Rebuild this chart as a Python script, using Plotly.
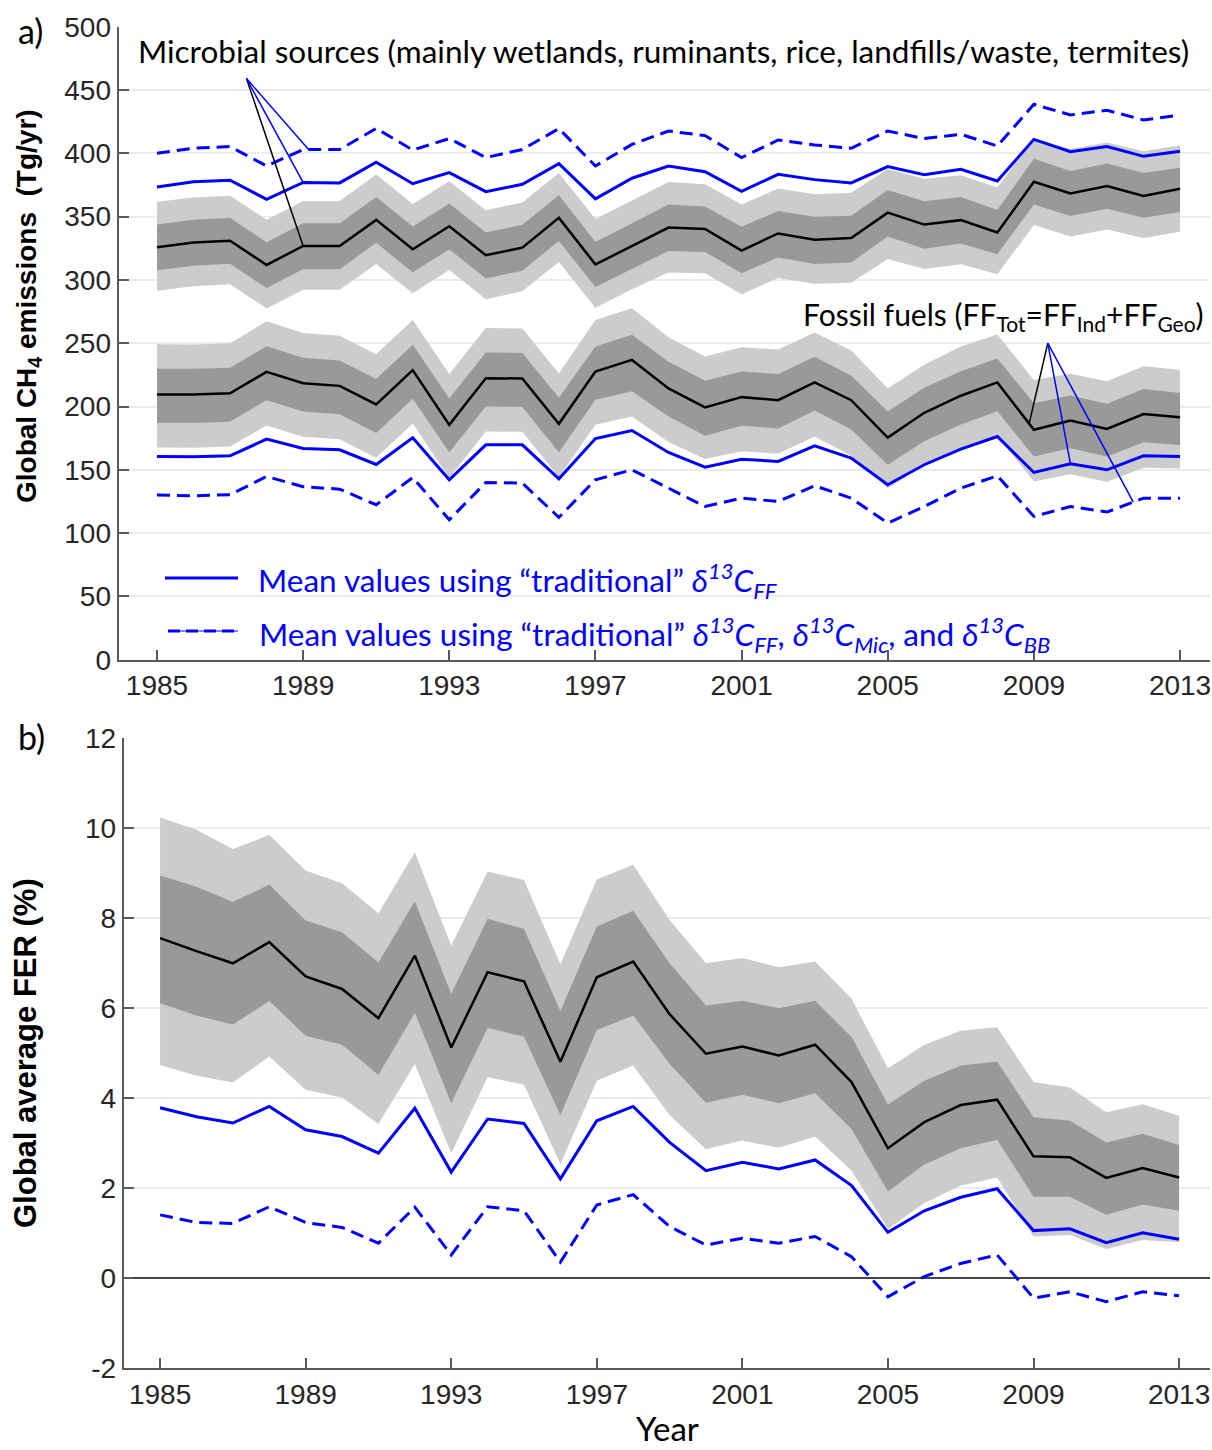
import plotly.graph_objects as go

# ---------------------------------------------------------------- data
years = list(range(1985, 2014))
tick_years = [1985, 1989, 1993, 1997, 2001, 2005, 2009, 2013]

# (a) microbial sources, Tg/yr
mic_mean = [325.8, 329.5, 331.0, 311.8, 326.8, 326.8, 347.4, 324.2, 342.4, 319.5,
            325.5, 349.0, 312.2, 327.0, 341.3, 340.3, 323.2, 336.7, 331.8, 333.0,
            353.1, 343.7, 347.2, 337.4, 377.5, 368.3, 374.2, 366.3, 372.0]
mic_inner_hi = [343.8, 347.5, 349.0, 329.8, 344.8, 344.8, 365.4, 342.2, 360.4, 337.5,
                343.5, 367.0, 330.0, 344.5, 359.6, 358.0, 342.0, 354.5, 349.8, 350.6,
                371.0, 362.2, 365.4, 355.3, 395.6, 386.1, 391.9, 384.5, 388.6]
mic_inner_lo = [307.6, 311.2, 312.7, 293.6, 308.5, 308.5, 329.3, 306.0, 324.1, 301.2,
                307.2, 330.7, 294.4, 308.5, 322.9, 322.1, 305.2, 317.7, 312.6, 313.8,
                334.2, 324.7, 328.7, 320.3, 359.6, 350.4, 356.2, 349.1, 353.7]
mic_outer_hi = [361.8, 365.0, 366.5, 347.6, 362.3, 362.3, 383.2, 359.9, 378.0, 355.0,
                361.2, 384.5, 348.2, 362.5, 377.3, 375.5, 359.5, 372.2, 367.6, 368.9,
                387.6, 379.8, 382.7, 372.9, 411.5, 403.3, 408.6, 401.6, 406.3]
mic_outer_lo = [291.5, 295.0, 296.5, 277.5, 292.3, 292.3, 312.5, 289.5, 307.8, 284.8,
                291.0, 314.2, 278.0, 292.6, 305.8, 305.3, 288.7, 301.5, 296.9, 297.8,
                316.6, 308.6, 312.4, 304.5, 343.3, 334.3, 339.9, 333.0, 338.0]
mic_trad_ff = [373.4, 377.6, 378.7, 363.7, 377.0, 376.6, 393.0, 376.0, 384.7, 369.7,
               375.5, 391.8, 364.0, 380.3, 390.0, 385.5, 370.0, 383.4, 379.2, 376.6,
               389.5, 383.0, 387.4, 378.2, 411.0, 401.3, 405.3, 397.6, 401.6]
mic_trad_all = [400.0, 404.0, 405.3, 390.0, 403.0, 403.0, 419.7, 402.6, 411.6, 396.6,
                403.0, 419.5, 390.0, 407.0, 417.6, 414.0, 396.6, 410.5, 406.6, 404.0,
                417.6, 411.6, 415.0, 405.8, 438.7, 430.3, 434.0, 426.3, 430.3]

# (a) fossil fuels, Tg/yr
ff_mean = [209.5, 209.5, 210.5, 227.4, 218.4, 216.3, 201.6, 228.7, 185.5, 222.4,
           222.1, 186.3, 227.6, 236.8, 214.3, 199.3, 207.4, 205.0, 219.0, 205.0,
           175.5, 195.0, 208.5, 219.0, 181.6, 189.0, 182.3, 194.1, 191.6]
ff_inner_hi = [229.8, 229.8, 230.6, 247.6, 238.5, 236.4, 221.8, 248.8, 206.3, 242.6,
               242.3, 206.9, 247.4, 256.6, 235.3, 220.3, 227.6, 225.6, 239.3, 224.4,
               196.0, 214.8, 227.9, 238.0, 202.6, 208.6, 202.1, 213.8, 210.6]
ff_inner_lo = [187.0, 187.0, 188.0, 205.0, 196.0, 193.8, 179.0, 206.2, 163.8, 200.0,
               199.6, 163.8, 205.3, 212.0, 192.1, 176.8, 184.8, 182.7, 196.8, 181.8,
               154.0, 172.5, 185.8, 196.3, 160.5, 167.0, 160.5, 171.7, 169.5]
ff_outer_hi = [249.2, 249.0, 250.0, 267.3, 258.0, 255.8, 241.2, 268.4, 225.6, 262.0,
               261.7, 226.0, 268.4, 277.6, 254.7, 239.5, 246.8, 245.0, 258.4, 244.3,
               214.5, 233.0, 247.4, 256.8, 221.0, 225.8, 220.0, 231.7, 229.0]
ff_outer_lo = [167.6, 167.5, 168.5, 185.0, 176.2, 174.2, 159.5, 186.5, 143.5, 180.2,
               180.0, 144.3, 185.6, 192.1, 172.0, 158.5, 164.6, 162.7, 176.3, 161.0,
               135.5, 154.0, 167.1, 176.8, 140.8, 146.5, 140.5, 151.6, 151.0]
ff_trad_ff = [160.5, 160.3, 161.0, 174.2, 166.8, 165.8, 154.2, 175.3, 142.1, 169.7,
              169.7, 142.9, 174.7, 181.0, 163.7, 152.1, 158.4, 156.6, 169.0, 159.2,
              138.2, 154.0, 166.3, 176.3, 147.9, 154.7, 150.0, 161.0, 160.5]
ff_trad_all = [130.0, 129.5, 130.3, 144.7, 136.6, 134.7, 122.4, 143.9, 110.5, 140.0,
               139.5, 112.4, 142.1, 150.0, 135.5, 121.0, 127.6, 125.0, 137.4, 127.6,
               107.9, 121.0, 135.5, 145.3, 113.2, 121.0, 116.6, 127.6, 127.6]

# (b) global average fossil emission rate, %
fer_mean = [7.56, 7.27, 7.00, 7.47, 6.71, 6.43, 5.78, 7.17, 5.13, 6.80,
            6.60, 4.81, 6.69, 7.04, 5.87, 4.99, 5.15, 4.95, 5.19, 4.36,
            2.89, 3.47, 3.85, 3.97, 2.71, 2.69, 2.23, 2.45, 2.24]
fer_inner_hi = [8.95, 8.70, 8.36, 8.75, 7.95, 7.69, 7.02, 8.38, 6.32, 7.99,
                7.76, 5.94, 7.82, 8.17, 7.00, 6.06, 6.17, 6.00, 6.17, 5.36,
                3.86, 4.39, 4.73, 4.82, 3.58, 3.50, 3.02, 3.21, 2.96]
fer_inner_lo = [6.11, 5.84, 5.64, 6.16, 5.39, 5.19, 4.52, 5.90, 3.89, 5.56,
                5.37, 3.63, 5.52, 5.84, 4.76, 3.90, 4.08, 3.89, 4.11, 3.32,
                1.93, 2.53, 2.89, 3.08, 1.81, 1.81, 1.41, 1.64, 1.50]
fer_outer_hi = [10.24, 9.97, 9.54, 9.85, 9.06, 8.78, 8.11, 9.47, 7.39, 9.04,
                8.85, 6.98, 8.86, 9.19, 7.96, 7.00, 7.12, 6.91, 7.04, 6.21,
                4.67, 5.19, 5.50, 5.58, 4.36, 4.24, 3.69, 3.87, 3.61]
fer_outer_lo = [4.74, 4.50, 4.35, 4.93, 4.19, 4.02, 3.43, 4.76, 2.78, 4.47,
                4.30, 2.54, 4.39, 4.73, 3.63, 2.87, 3.06, 2.90, 3.15, 2.39,
                1.10, 1.67, 2.06, 2.24, 0.93, 0.96, 0.65, 0.85, 0.80]
fer_trad_ff = [3.79, 3.59, 3.45, 3.82, 3.30, 3.15, 2.78, 3.78, 2.36, 3.54,
               3.44, 2.21, 3.50, 3.82, 3.02, 2.39, 2.58, 2.43, 2.63, 2.06,
               1.02, 1.50, 1.80, 1.99, 1.06, 1.10, 0.79, 1.01, 0.87]
fer_trad_all = [1.41, 1.24, 1.22, 1.59, 1.24, 1.13, 0.78, 1.58, 0.52, 1.59,
                1.50, 0.36, 1.63, 1.86, 1.15, 0.74, 0.89, 0.78, 0.93, 0.48,
                -0.41, 0.04, 0.33, 0.52, -0.44, -0.30, -0.52, -0.30, -0.39]

emis_ticks = list(range(0, 501, 50))
fer_ticks = list(range(-2, 13, 2))
fer_tick_text = [str(v) for v in fer_ticks]

# ---------------------------------------------------------------- styling
W, H = 1212, 1450
LIGHT, DARK, BLUE, AXIS = "#cccccc", "#999999", "#0000ff", "#5a5a5a"
TICK_FONT = dict(family="Liberation Sans, Arial", size=28, color="#262626")
TEXT_FONT = "Lato, Calibri, sans-serif"
DASH = "13px,7px"


def px(x):
    return x / W


def py(y):
    return 1 - y / H


fig = go.Figure()


def add_band(lo, hi, color, xa, ya):
    fig.add_trace(go.Scatter(
        x=years + years[::-1], y=hi + lo[::-1], fill="toself", fillcolor=color,
        mode="lines", line=dict(width=0), hoverinfo="skip", showlegend=False,
        xaxis=xa, yaxis=ya))


def add_line(vals, color, width, xa, ya, dash="solid"):
    fig.add_trace(go.Scatter(
        x=years, y=vals, mode="lines", line=dict(color=color, width=width, dash=dash),
        hoverinfo="skip", showlegend=False, xaxis=xa, yaxis=ya))


# panel (a)
for lo, hi, col in [(mic_outer_lo, mic_outer_hi, LIGHT), (mic_inner_lo, mic_inner_hi, DARK),
                    (ff_outer_lo, ff_outer_hi, LIGHT), (ff_inner_lo, ff_inner_hi, DARK)]:
    add_band(lo, hi, col, "x", "y")
add_line(mic_mean, "black", 2.5, "x", "y")
add_line(ff_mean, "black", 2.5, "x", "y")
add_line(mic_trad_ff, BLUE, 3, "x", "y")
add_line(ff_trad_ff, BLUE, 3, "x", "y")
add_line(mic_trad_all, BLUE, 3, "x", "y", DASH)
add_line(ff_trad_all, BLUE, 3, "x", "y", DASH)

# panel (b)
add_band(fer_outer_lo, fer_outer_hi, LIGHT, "x2", "y2")
add_band(fer_inner_lo, fer_inner_hi, DARK, "x2", "y2")
add_line(fer_mean, "black", 2.5, "x2", "y2")
add_line(fer_trad_ff, BLUE, 3, "x2", "y2")
add_line(fer_trad_all, BLUE, 3, "x2", "y2", DASH)

axis_common = dict(showline=True, linecolor=AXIS, linewidth=2, ticks="inside",
                   ticklen=10, tickwidth=1.5, tickcolor=AXIS, tickfont=TICK_FONT,
                   mirror=False, automargin=False)

fig.update_layout(
    width=W, height=H, margin=dict(l=0, r=0, t=0, b=0, autoexpand=False),
    paper_bgcolor="white", plot_bgcolor="white", showlegend=False,
    xaxis=dict(domain=[px(118.6), px(1210)], range=[1983.95, 2013.82], anchor="y",
               tickvals=tick_years, showgrid=False, zeroline=False, **axis_common),
    yaxis=dict(domain=[py(659.7), py(26.7)], range=[0, 500], anchor="x",
               tickvals=emis_ticks, showgrid=True, gridcolor="#ebebeb",
               gridwidth=1.5, zeroline=False, **axis_common),
    xaxis2=dict(domain=[px(123.7), px(1210)], range=[1984.0, 2013.85], anchor="y2",
                tickvals=tick_years, showgrid=False, zeroline=False, **axis_common),
    yaxis2=dict(domain=[py(1368.3), py(738.3)], range=[-2, 12], anchor="x2",
                tickvals=fer_ticks, ticktext=fer_tick_text, showgrid=True,
                gridcolor="#ebebeb", gridwidth=1.5, zeroline=True,
                zerolinecolor="#444444", zerolinewidth=1.5, **axis_common),
)

# connector lines from the source labels to the curves they describe
mic_apex = (1987.45, 459.0)
i89 = years.index(1989)
for (x_end, y_end, col) in [(1989, mic_mean[i89], "black"),
                            (1989, mic_trad_ff[i89], BLUE),
                            (1989.15, mic_trad_all[i89], BLUE)]:
    fig.add_shape(type="line", xref="x", yref="y", x0=mic_apex[0], y0=mic_apex[1],
                  x1=x_end, y1=y_end, line=dict(color=col, width=1.5))

ff_apex = (2009.38, 250.0)
i08, i10, i11 = years.index(2008), years.index(2010), years.index(2011)
ff_black_end = ff_mean[i08] + 0.87 * (ff_mean[i08 + 1] - ff_mean[i08])
ff_dash_end = ff_trad_all[i11] + 0.72 * (ff_trad_all[i11 + 1] - ff_trad_all[i11])
for (x_end, y_end, col) in [(2008.87, ff_black_end, "black"),
                            (2010, ff_trad_ff[i10], BLUE),
                            (2011.72, ff_dash_end, BLUE)]:
    fig.add_shape(type="line", xref="x", yref="y", x0=ff_apex[0], y0=ff_apex[1],
                  x1=x_end, y1=y_end, line=dict(color=col, width=1.5))

# legend keys
fig.add_shape(type="line", xref="paper", yref="paper", x0=px(165), x1=px(238),
              y0=py(578), y1=py(578), line=dict(color=BLUE, width=3))
fig.add_shape(type="line", xref="paper", yref="paper", x0=px(168), x1=px(238),
              y0=py(631), y1=py(631), line=dict(color=BLUE, width=1))
fig.add_shape(type="line", xref="paper", yref="paper", x0=px(168), x1=px(238),
              y0=py(631), y1=py(631), line=dict(color=BLUE, width=3, dash="12px,6px"))

d13 = "<i>δ<sup>13</sup>C<sub>{}</sub></i>"
annotations = [
    dict(text="Microbial sources (mainly wetlands, ruminants, rice, landfills/waste, termites)",
         x=px(136), y=py(51), xanchor="left", yanchor="middle",
         font=dict(family=TEXT_FONT, size=31.5, color="black")),
    dict(text="Fossil fuels (FF<sub>Tot</sub>=FF<sub>Ind</sub>+FF<sub>Geo</sub>)",
         x=px(1206), y=py(316), xanchor="right", yanchor="middle",
         font=dict(family=TEXT_FONT, size=30, color="black")),
    dict(text="Mean values using “traditional” " + d13.format("FF"),
         x=px(256), y=py(580), xanchor="left", yanchor="middle",
         font=dict(family=TEXT_FONT, size=31.5, color=BLUE)),
    dict(text="Mean values using “traditional” " + d13.format("FF") + ", "
         + d13.format("Mic") + ", and " + d13.format("BB"),
         x=px(257), y=py(634), xanchor="left", yanchor="middle",
         font=dict(family=TEXT_FONT, size=31.5, color=BLUE)),
    dict(text="a)", x=px(30), y=py(31), xanchor="center", yanchor="middle",
         font=dict(family=TEXT_FONT, size=34, color="black")),
    dict(text="b)", x=px(31), y=py(736), xanchor="center", yanchor="middle",
         font=dict(family=TEXT_FONT, size=34, color="black")),
    dict(text="<b>Global CH<sub>4</sub> emissions  (Tg/yr)</b>", textangle=-90,
         x=px(28), y=py(306), xanchor="center", yanchor="middle",
         font=dict(family="Liberation Sans, Arial", size=28, color="black")),
    dict(text="<b>Global average FER (%)</b>", textangle=-90,
         x=px(25), y=py(1053), xanchor="center", yanchor="middle",
         font=dict(family="Liberation Sans, Arial", size=31, color="black")),
    dict(text="Year", x=px(667), y=py(1449), xanchor="center", yanchor="bottom",
         borderpad=0, font=dict(family=TEXT_FONT, size=33, color="black")),
]
for a in annotations:
    fig.add_annotation(xref="paper", yref="paper", showarrow=False, **a)

fig.write_html("out.html")
